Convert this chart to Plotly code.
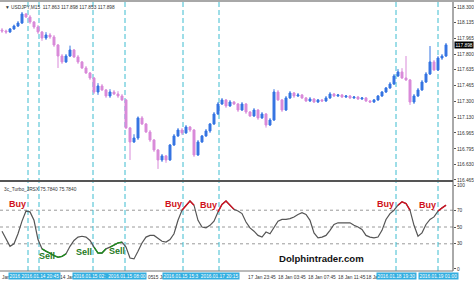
import plotly.graph_objects as go

# ---------------- data ----------------
opens = [118.056,118.045,118.035,118.067,118.098,118.130,118.226,118.194,118.141,118.088,
         118.035,117.971,118.003,117.982,117.897,117.780,117.717,117.780,117.844,117.770,
         117.717,117.653,117.600,117.547,117.398,117.462,117.420,117.356,117.398,117.377,
         117.356,117.314,117.017,116.868,116.910,117.123,117.059,116.974,116.889,116.783,
         116.677,116.720,116.677,116.836,116.932,116.995,116.964,117.027,116.995,116.730,
         116.868,116.932,116.985,117.059,117.165,117.271,117.314,117.250,117.292,117.271,
         117.207,117.271,117.186,117.144,117.207,117.123,117.165,117.048,117.101,117.398,
         117.314,117.207,117.335,117.388,117.356,117.367,117.335,117.303,117.324,117.292,
         117.314,117.303,117.335,117.377,117.356,117.367,117.345,117.356,117.335,117.345,
         117.324,117.335,117.303,117.292,117.314,117.356,117.398,117.441,117.483,117.568,
         117.611,117.547,117.526,117.292,117.356,117.420,117.504,117.589,117.717,117.632,
         117.759,117.780]
closes = [118.045,118.035,118.067,118.098,118.130,118.226,118.194,118.141,118.088,118.035,
          117.971,118.003,117.982,117.897,117.780,117.717,117.780,117.844,117.770,117.717,
          117.653,117.600,117.547,117.398,117.462,117.420,117.356,117.398,117.377,117.356,
          117.314,117.017,116.868,116.910,117.123,117.059,116.974,116.889,116.783,116.677,
          116.720,116.677,116.836,116.932,116.995,116.964,117.027,116.995,116.730,116.868,
          116.932,116.985,117.059,117.165,117.271,117.314,117.250,117.292,117.271,117.207,
          117.271,117.186,117.144,117.207,117.123,117.165,117.048,117.101,117.398,117.314,
          117.207,117.335,117.388,117.356,117.367,117.335,117.303,117.324,117.292,117.314,
          117.303,117.335,117.377,117.356,117.367,117.345,117.356,117.335,117.345,117.324,
          117.335,117.303,117.292,117.314,117.356,117.398,117.441,117.483,117.568,117.611,
          117.547,117.526,117.292,117.356,117.420,117.504,117.589,117.717,117.632,117.759,
          117.780,117.898]
highs = [118.076,118.060,118.077,118.113,118.150,118.247,118.236,118.214,118.151,118.108,
         118.045,118.033,118.023,118.002,117.907,117.800,117.800,117.890,117.854,117.790,
         117.727,117.673,117.610,117.557,117.492,117.482,117.430,117.428,117.418,117.407,
         117.376,117.324,117.027,116.950,117.139,117.143,117.069,116.994,116.899,116.793,
         116.740,116.730,116.846,116.952,117.015,117.015,117.047,117.037,117.005,116.888,
         116.942,117.005,117.069,117.185,117.291,117.334,117.324,117.312,117.302,117.281,
         117.291,117.281,117.196,117.227,117.217,117.185,117.175,117.121,117.428,117.418,
         117.324,117.355,117.408,117.398,117.387,117.377,117.345,117.344,117.334,117.324,
         117.324,117.355,117.397,117.387,117.377,117.377,117.366,117.366,117.355,117.355,
         117.345,117.345,117.313,117.324,117.366,117.408,117.451,117.503,117.588,117.641,
         117.651,117.780,117.536,117.376,117.440,117.524,117.609,117.886,117.737,117.779,
         117.800,117.918]
lows = [118.025,118.015,118.025,118.057,118.088,118.120,118.184,118.121,118.068,118.015,
        117.941,117.951,117.962,117.877,117.653,117.697,117.707,117.770,117.760,117.697,
        117.643,117.590,117.527,117.378,117.368,117.410,117.336,117.336,117.367,117.336,
        117.304,117.007,116.677,116.858,116.890,117.049,116.964,116.869,116.763,116.582,
        116.657,116.647,116.667,116.826,116.922,116.944,116.954,116.975,116.710,116.720,
        116.858,116.922,116.965,117.049,117.155,117.261,117.230,117.240,117.261,117.187,
        117.197,117.166,117.134,117.134,117.103,117.113,117.020,117.038,117.091,117.304,
        117.187,117.197,117.325,117.336,117.346,117.325,117.293,117.293,117.282,117.282,
        117.293,117.293,117.325,117.346,117.346,117.335,117.335,117.325,117.325,117.314,
        117.314,117.293,117.282,117.282,117.304,117.346,117.388,117.431,117.473,117.558,
        117.537,117.516,117.261,117.272,117.346,117.410,117.494,117.579,117.622,117.622,
        117.739,117.770]

jrsx = [45,35,27,30,42,57,69,68,58,35,24,21,19,16,14,15,18,27,34,38,
        39,38,34,26,19,19,24,26,29,31,32,26,13,12,21,31,38,40,40,37,
        33,32,35,42,58,70,76,81,76,58,50,49,52,57,68,77,81,76,71,69,
        66,56,49,45,40,38,44,42,50,57,59,59,60,62,65,67,65,58,43,37,
        38,40,46,53,55,55,55,55,52,50,47,40,38,37,38,46,59,66,70,76,
        80,78,70,52,39,43,53,59,62,69,73,76]

buy_segments = [(45, 48), (54, 58), (99, 102), (109, 111)]
sell_segments = [(10, 16), (23, 26), (27, 30)]

signal_bars = [6.5, 9.25, 22.75, 30.75, 45.25, 54.25, 98.5, 109.0]
# date boxes of the signal lines (overlapping pairs shown as one strip)
box_bars = [8.2, 26.75, 49.75, 98.6, 109.0]
box_labels = ["2016 2016.01.14 20:45", "2016.01.15 02:  2016.01.15 08:00",
              "2016.01.15 15:3  2016.01.17 20:15", "2016.01.18 19:30", "2016.01.19 01:00"]

time_bars = [-0.5, 14.1, 36.0, 37.3, 61.0, 68.5, 76.0, 83.5, 90.6]
time_labels = ["Jan", "14 Jan", "05", "15 Ja", "17 Jan 23:45",
               "18 Jan 03:45", "18 Jan 07:45", "18 Jan 11:45", "18 Ja"]

buy_marks = [(3.75, 77), (42.75, 77), (51.5, 76), (95.75, 77), (106.25, 76)]
sell_marks = [(11.25, 15.5), (20.5, 20), (28.75, 21)]

price_ticks = [116.465, 116.630, 116.795, 116.965, 117.130, 117.300, 117.465,
               117.635, 117.800, 117.965, 118.135, 118.300]
osc_ticks = [0, 30, 50, 70, 100]
osc_levels = [30, 50, 70]
last_price = 117.898

# ---------------- figure ----------------
bars = list(range(len(closes)))
fig = go.Figure()
fig.add_trace(go.Candlestick(
    x=bars, open=opens, high=highs, low=lows, close=closes,
    increasing=dict(line=dict(color="#3574E2", width=1), fillcolor="#3574E2"),
    decreasing=dict(line=dict(color="#D98AD9", width=1), fillcolor="#D98AD9"),
    whiskerwidth=0, xaxis="x", yaxis="y", showlegend=False, hoverinfo="skip"))

fig.add_trace(go.Scatter(x=bars, y=jrsx, mode="lines", line=dict(color="#555555", width=1.2),
                         xaxis="x2", yaxis="y2", showlegend=False, hoverinfo="skip"))
for a, b in buy_segments:
    fig.add_trace(go.Scatter(x=bars[a:b + 1], y=jrsx[a:b + 1], mode="lines",
                             line=dict(color="#D01020", width=1.4), xaxis="x2", yaxis="y2",
                             showlegend=False, hoverinfo="skip"))
for a, b in sell_segments:
    fig.add_trace(go.Scatter(x=bars[a:b + 1], y=jrsx[a:b + 1], mode="lines",
                             line=dict(color="#1E8A1E", width=1.4), xaxis="x2", yaxis="y2",
                             showlegend=False, hoverinfo="skip"))

shapes = []
for lv in osc_levels:
    shapes.append(dict(type="line", xref="x2 domain", yref="y2", x0=0, x1=1, y0=lv, y1=lv,
                       line=dict(color="#9A9A9A", width=1, dash="dot"), layer="below"))
for xb in signal_bars:
    shapes.append(dict(type="line", xref="x", yref="paper", x0=xb, x1=xb, y0=0, y1=1,
                       line=dict(color="#3DBCD0", width=1, dash="5px,3px"), layer="below"))
# panel separator, right border, bottom border, top bar
shapes.append(dict(type="line", xref="paper", yref="paper", x0=0, x1=1, y0=0.3346, y1=0.3346,
                   line=dict(color="#555555", width=2)))
shapes.append(dict(type="line", xref="paper", yref="paper", x0=1, x1=1, y0=0, y1=1,
                   line=dict(color="#555555", width=1)))
shapes.append(dict(type="line", xref="paper", yref="paper", x0=0, x1=1, y0=0, y1=0,
                   line=dict(color="#777777", width=1)))
shapes.append(dict(type="rect", xref="paper", yref="paper", x0=-0.01, x1=1.1, y0=1, y1=1.01,
                   fillcolor="#A8A8A8", line=dict(width=0)))

ann = []
FAM = "Liberation Sans, Arial, sans-serif"
small = dict(family=FAM, size=4.8, color="#333333")
for xb, t in zip(time_bars, time_labels):
    ann.append(dict(x=xb, xref="x2", y=0, yref="paper", yanchor="top", xanchor="left",
                    yshift=-2, text=t, showarrow=False, font=small))
for xb, t in zip(box_bars, box_labels):
    ann.append(dict(x=xb, xref="x2", y=0, yref="paper", yanchor="top", xanchor="center",
                    yshift=-1, text=t, showarrow=False, bgcolor="#33AEE0", borderpad=0.5,
                    font=dict(family=FAM, size=4.8, color="white")))
for x, y in buy_marks:
    ann.append(dict(x=x, y=y, xref="x2", yref="y2", text="<b>Buy</b>", showarrow=False,
                    font=dict(family=FAM, size=9, color="#D01020")))
for x, y in sell_marks:
    ann.append(dict(x=x, y=y, xref="x2", yref="y2", text="<b>Sell</b>", showarrow=False,
                    font=dict(family=FAM, size=9, color="#1E7A1E")))
ann.append(dict(x=79.75, y=12, xref="x2", yref="y2", text="<b>Dolphintrader.com</b>", showarrow=False,
                font=dict(family=FAM, size=9.6, color="#111111")))
ann.append(dict(x=0.006, y=0.995, xref="paper", yref="paper", xanchor="left", yanchor="top",
                text="▼ USDJPY,M15  117.863 117.898 117.853 117.898", showarrow=False, font=small))
ann.append(dict(x=0.004, y=0.3215, xref="paper", yref="paper", xanchor="left", yanchor="top",
                text="3c_Turbo_JRSX 75.7840 75.7840", showarrow=False, font=small))
ann.append(dict(x=1, y=last_price, xref="paper", yref="y", xanchor="left", yanchor="middle",
                text="117.898", showarrow=False, bgcolor="#000000", borderpad=0.5, xshift=1,
                font=dict(family=FAM, size=4.8, color="white")))

axis_font = dict(family=FAM, size=4.8, color="#333333")
fig.update_layout(
    width=474, height=282, margin=dict(l=0, r=21, t=2, b=11),
    paper_bgcolor="white", plot_bgcolor="white",
    shapes=shapes, annotations=ann, showlegend=False,
    xaxis=dict(domain=[0, 1], range=[-0.5, 112.75], anchor="y", showticklabels=False,
               showgrid=False, zeroline=False, rangeslider=dict(visible=False)),
    xaxis2=dict(domain=[0, 1], range=[-0.5, 112.75], anchor="y2", matches="x",
                showticklabels=False, showgrid=False, zeroline=False),
    yaxis=dict(domain=[0.3346, 1], range=[116.454, 118.353], side="right", anchor="x",
               tickvals=price_ticks, ticktext=[f"{v:.3f}" for v in price_ticks],
               ticks="outside", ticklen=2, tickcolor="#555555", tickfont=axis_font,
               showgrid=False, zeroline=False),
    yaxis2=dict(domain=[0, 0.3271], range=[-2.4, 102.4], side="right", anchor="x2",
                tickvals=osc_ticks, ticks="outside", ticklen=2, tickcolor="#555555",
                tickfont=axis_font, showgrid=False, zeroline=False),
)
fig.write_html("out.html")
